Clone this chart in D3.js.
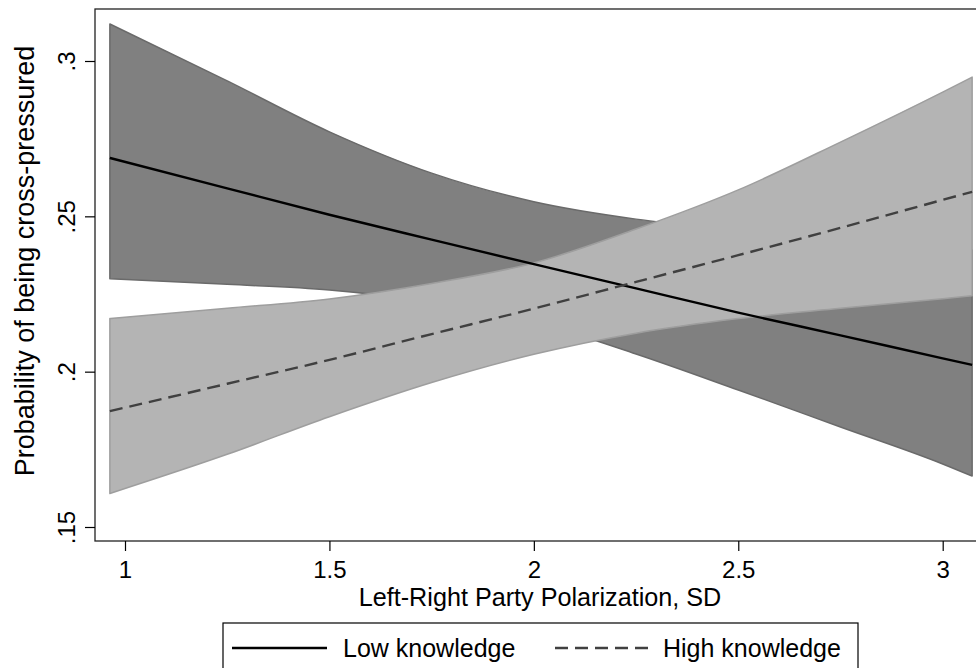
<!DOCTYPE html>
<html>
<head>
<meta charset="utf-8">
<script src="https://cdn.jsdelivr.net/npm/d3@7"></script>
<style>
  body { margin: 0; background: #fff; }
  svg { display: block; }
  text { font-family: "Liberation Sans", Arial, Helvetica, sans-serif; fill: #000; }
</style>
</head>
<body>
<svg id="chart" width="976" height="668"></svg>
<script>
// Left-right party polarization (SD) at which predictions are evaluated
const polarization = [0.963, 1.25, 1.5, 1.75, 2.0, 2.25, 2.5, 2.75, 3.0, 3.072];

// Low knowledge: predicted probability and 95% confidence bounds
const lowFit   = [0.2688, 0.2590, 0.2505, 0.2425, 0.2346, 0.2268, 0.2190, 0.2117, 0.2043, 0.2022];
const lowUpper = [0.3119, 0.2936, 0.2772, 0.2639, 0.2547, 0.2491, 0.2456, 0.2424, 0.2398, 0.2392];
const lowLower = [0.2299, 0.2281, 0.2263, 0.2224, 0.2160, 0.2057, 0.1941, 0.1822, 0.1703, 0.1664];

// High knowledge: predicted probability and 95% confidence bounds
const highFit   = [0.1873, 0.1961, 0.2038, 0.2121, 0.2203, 0.2289, 0.2375, 0.2463, 0.2553, 0.2579];
const highUpper = [0.2171, 0.2204, 0.2234, 0.2284, 0.2350, 0.2459, 0.2585, 0.2739, 0.2900, 0.2948];
const highLower = [0.1608, 0.1734, 0.1855, 0.1965, 0.2056, 0.2124, 0.2171, 0.2204, 0.2235, 0.2244];

// Axis ticks and labels
const xTicks = [1, 1.5, 2, 2.5, 3];
const xTickLabels = ["1", "1.5", "2", "2.5", "3"];
const yTicks = [0.15, 0.2, 0.25, 0.3];
const yTickLabels = [".15", ".2", ".25", ".3"];

const xTitle = "Left-Right Party Polarization, SD";
const yTitle = "Probability of being cross-pressured";
const legendLabels = ["Low knowledge", "High knowledge"];

const svg = d3.select("#chart");

// Plot region
const plot = { left: 95, top: 9, right: 992, bottom: 541 };

const x = d3.scaleLinear().domain([1, 3]).range([125, 942.7]);
const y = d3.scaleLinear().domain([0.15, 0.3]).range([527, 61]);

const tickFont = 24;
const xTitleFont = 25.2;
const yTitleFont = 27;
const legendFont = 25;

// White plot background
svg.append("rect")
  .attr("x", plot.left).attr("y", plot.top)
  .attr("width", plot.right - plot.left).attr("height", plot.bottom - plot.top)
  .attr("fill", "#fff");

const idx = d3.range(polarization.length);

function band(upper, lower) {
  return d3.area()
    .curve(d3.curveMonotoneX)
    .x(i => x(polarization[i]))
    .y0(i => y(lower[i]))
    .y1(i => y(upper[i]));
}
function fitLine(fit) {
  return d3.line()
    .curve(d3.curveMonotoneX)
    .x(i => x(polarization[i]))
    .y(i => y(fit[i]));
}

// Confidence bands
svg.append("path")
  .attr("d", band(lowUpper, lowLower)(idx))
  .attr("fill", "#808080")
  .attr("stroke", "#6a6a6a")
  .attr("stroke-width", 1.5)
  .attr("stroke-linejoin", "round");

svg.append("path")
  .attr("d", band(highUpper, highLower)(idx))
  .attr("fill", "#b4b4b4")
  .attr("stroke", "#9e9e9e")
  .attr("stroke-width", 1.5)
  .attr("stroke-linejoin", "round");

// Fitted lines
svg.append("path")
  .attr("d", fitLine(lowFit)(idx))
  .attr("fill", "none")
  .attr("stroke", "#000")
  .attr("stroke-width", 2.4);

svg.append("path")
  .attr("d", fitLine(highFit)(idx))
  .attr("fill", "none")
  .attr("stroke", "#404040")
  .attr("stroke-width", 2.4)
  .attr("stroke-dasharray", "13,7");

// Plot frame
svg.append("rect")
  .attr("x", plot.left).attr("y", plot.top)
  .attr("width", plot.right - plot.left).attr("height", plot.bottom - plot.top)
  .attr("fill", "none")
  .attr("stroke", "#222")
  .attr("stroke-width", 1.3);

// Y axis
const yAxis = svg.append("g")
  .attr("transform", `translate(${plot.left},0)`)
  .call(d3.axisLeft(y).tickValues(yTicks)
    .tickFormat((d, i) => yTickLabels[i]).tickSize(10).tickSizeOuter(0));
yAxis.select(".domain").remove();
yAxis.selectAll(".tick line").attr("stroke", "#000").attr("stroke-width", 1.2);
yAxis.selectAll(".tick text")
  .attr("x", null).attr("dy", null).attr("y", null)
  .attr("transform", "translate(-20,0) rotate(-90)")
  .attr("text-anchor", "middle")
  .style("font-size", tickFont + "px")
  .style("font-family", '"Liberation Sans", Arial, sans-serif')
  .attr("fill", "#000");

// X axis
const xAxis = svg.append("g")
  .attr("transform", `translate(0,${plot.bottom})`)
  .call(d3.axisBottom(x).tickValues(xTicks)
    .tickFormat((d, i) => xTickLabels[i]).tickSize(10).tickSizeOuter(0));
xAxis.select(".domain").remove();
xAxis.selectAll(".tick line").attr("stroke", "#000").attr("stroke-width", 1.2);
xAxis.selectAll(".tick text")
  .attr("y", 37).attr("dy", null)
  .style("font-size", tickFont + "px")
  .style("font-family", '"Liberation Sans", Arial, sans-serif')
  .attr("fill", "#000");

// Axis titles
svg.append("text")
  .attr("x", 540).attr("y", 606)
  .attr("text-anchor", "middle")
  .style("font-size", xTitleFont + "px")
  .text(xTitle);

svg.append("text")
  .attr("transform", "translate(34,261) rotate(-90)")
  .attr("text-anchor", "middle")
  .style("font-size", yTitleFont + "px")
  .text(yTitle);

// Legend
const legend = svg.append("g");
legend.append("rect")
  .attr("x", 223).attr("y", 623)
  .attr("width", 635).attr("height", 70)
  .attr("fill", "#fff")
  .attr("stroke", "#000")
  .attr("stroke-width", 1.2);

legend.append("line")
  .attr("x1", 232).attr("x2", 327).attr("y1", 648).attr("y2", 648)
  .attr("stroke", "#000").attr("stroke-width", 2.4);
legend.append("text")
  .attr("x", 343).attr("y", 657)
  .style("font-size", legendFont + "px")
  .text(legendLabels[0]);

legend.append("line")
  .attr("x1", 555).attr("x2", 652).attr("y1", 648).attr("y2", 648)
  .attr("stroke", "#404040").attr("stroke-width", 2.4)
  .attr("stroke-dasharray", "13,7");
legend.append("text")
  .attr("x", 663).attr("y", 657)
  .style("font-size", legendFont + "px")
  .text(legendLabels[1]);
</script>
</body>
</html>
